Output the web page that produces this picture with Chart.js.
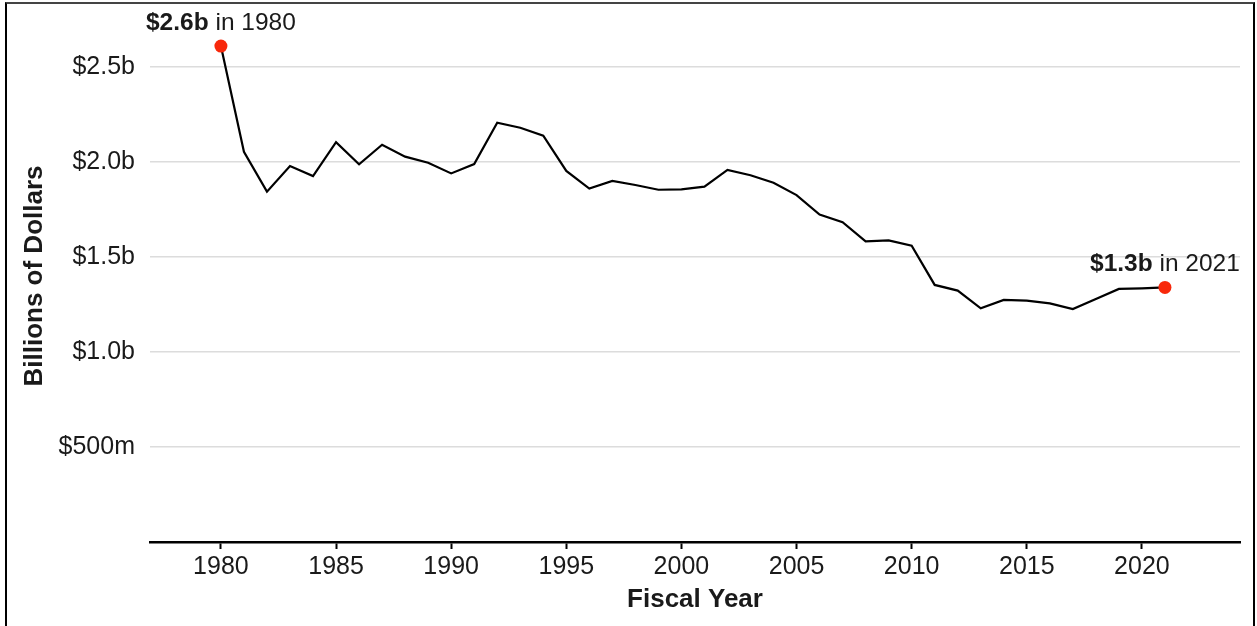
<!DOCTYPE html>
<html>
<head>
<meta charset="utf-8">
<script src="https://cdn.jsdelivr.net/npm/chart.js@4.4.1/dist/chart.umd.min.js"></script>
<style>
  html, body { margin: 0; padding: 0; background: #ffffff; }
  #wrap { position: relative; width: 1257px; height: 626px; overflow: hidden; }
  #frame {
    position: absolute; left: 5px; top: 2px; width: 1246px; height: 640px;
    border-left: 2px solid #000; border-right: 2px solid #000; border-top: 2px solid #444;
    pointer-events: none;
  }
</style>
</head>
<body>
<div id="wrap">
  <canvas id="spendChart"></canvas>
  <div id="frame"></div>
</div>
<script>
// Fiscal years and spending, in billions of dollars
const years = [1980, 1981, 1982, 1983, 1984, 1985, 1986, 1987, 1988, 1989,
  1990, 1991, 1992, 1993, 1994, 1995, 1996, 1997, 1998, 1999,
  2000, 2001, 2002, 2003, 2004, 2005, 2006, 2007, 2008, 2009,
  2010, 2011, 2012, 2013, 2014, 2015, 2016, 2017, 2018, 2019,
  2020, 2021];
const spending = [2.61, 2.054, 1.844, 1.979, 1.926, 2.104, 1.988, 2.091, 2.028, 1.996,
  1.940, 1.989, 2.207, 2.180, 2.139, 1.953, 1.860, 1.900, 1.879, 1.854,
  1.856, 1.870, 1.958, 1.930, 1.891, 1.826, 1.723, 1.683, 1.582, 1.587,
  1.559, 1.353, 1.323, 1.230, 1.274, 1.270, 1.256, 1.226, 1.279, 1.332,
  1.335, 1.340];

const xTickYears = [1980, 1985, 1990, 1995, 2000, 2005, 2010, 2015, 2020];
const yTickValues = [0.5, 1.0, 1.5, 2.0, 2.5];
const yTickLabels = ["$500m", "$1.0b", "$1.5b", "$2.0b", "$2.5b"];

// highlighted points: first and last year
const highlightIndexes = [0, 41];
const highlightBold = ["$2.6b", "$1.3b"];
const highlightRest = [" in 1980", " in 2021"];

const FONT = "'Liberation Sans', Arial, Helvetica, sans-serif";
const TEXT = "#1a1a1a";
const RED = "#f8280b";

// Draws the "$2.6b in 1980" style labels above the highlighted points
const highlightLabels = {
  id: "highlightLabels",
  afterDatasetsDraw(chart) {
    const ctx = chart.ctx;
    const meta = chart.getDatasetMeta(0);
    ctx.save();
    ctx.fillStyle = TEXT;
    ctx.textBaseline = "alphabetic";
    ctx.textAlign = "left";
    highlightIndexes.forEach((idx, i) => {
      const pt = meta.data[idx];
      const boldFont = "bold 24.5px " + FONT;
      const normFont = "24.5px " + FONT;
      ctx.font = boldFont;
      const w1 = ctx.measureText(highlightBold[i]).width;
      ctx.font = normFont;
      const w2 = ctx.measureText(highlightRest[i]).width;
      const x0 = pt.x - (w1 + w2) / 2;
      const y = pt.y - 16;
      ctx.font = boldFont;
      ctx.fillText(highlightBold[i], x0, y);
      ctx.font = normFont;
      ctx.fillText(highlightRest[i], x0 + w1, y);
    });
    ctx.restore();
  },
};

const ctx = document.getElementById("spendChart").getContext("2d");

new Chart(ctx, {
  type: "line",
  data: {
    datasets: [
      {
        data: years.map((yr, i) => ({ x: yr, y: spending[i] })),
        borderColor: "#000000",
        borderWidth: 2.2,
        tension: 0,
        fill: false,
        pointRadius: (c) => (highlightIndexes.includes(c.dataIndex) ? 6.5 : 0),
        pointBackgroundColor: RED,
        pointBorderWidth: 0,
        pointHoverRadius: 0,
      },
    ],
  },
  options: {
    responsive: true,
    maintainAspectRatio: false,
    animation: false,
    layout: {
      padding: { top: 10, right: 17, bottom: 0, left: 0 },
    },
    plugins: {
      legend: { display: false },
      tooltip: { enabled: false },
    },
    scales: {
      x: {
        type: "linear",
        min: 1976.92,
        max: 2024.26,
        afterBuildTicks: (scale) => {
          scale.ticks = xTickYears.map((v) => ({ value: v }));
        },
        afterFit: (scale) => {
          scale.height = 84;
          scale.paddingLeft = 0;
          scale.paddingRight = 0;
        },
        grid: {
          display: true,
          drawOnChartArea: false,
          drawTicks: true,
          tickLength: 7,
          tickColor: "#000000",
          tickWidth: 2,
        },
        border: {
          display: true,
          color: "#000000",
          width: 2.5,
        },
        ticks: {
          color: TEXT,
          padding: 3,
          maxRotation: 0,
          font: { family: FONT, size: 25 },
          callback: (value) => String(value),
        },
        title: {
          display: true,
          text: "Fiscal Year",
          color: TEXT,
          padding: { top: 0, bottom: 11 },
          font: { family: FONT, size: 26, weight: "bold" },
        },
      },
      y: {
        min: 0,
        max: 2.8,
        afterBuildTicks: (scale) => {
          scale.ticks = yTickValues.map((v) => ({ value: v }));
        },
        afterFit: (scale) => {
          scale.width = 150;
          scale.paddingTop = 0;
          scale.paddingBottom = 0;
        },
        grid: {
          color: "#dcdcdc",
          lineWidth: 1.5,
          drawTicks: false,
        },
        border: { display: false },
        ticks: {
          color: TEXT,
          padding: 15,
          font: { family: FONT, size: 25 },
          callback: (value) => {
            const i = yTickValues.indexOf(value);
            return i >= 0 ? yTickLabels[i] : "";
          },
        },
        title: {
          display: true,
          text: "Billions of Dollars",
          color: TEXT,
          padding: { top: 19, bottom: 0 },
          font: { family: FONT, size: 26, weight: "bold" },
        },
      },
    },
  },
  plugins: [highlightLabels],
});
</script>
</body>
</html>
